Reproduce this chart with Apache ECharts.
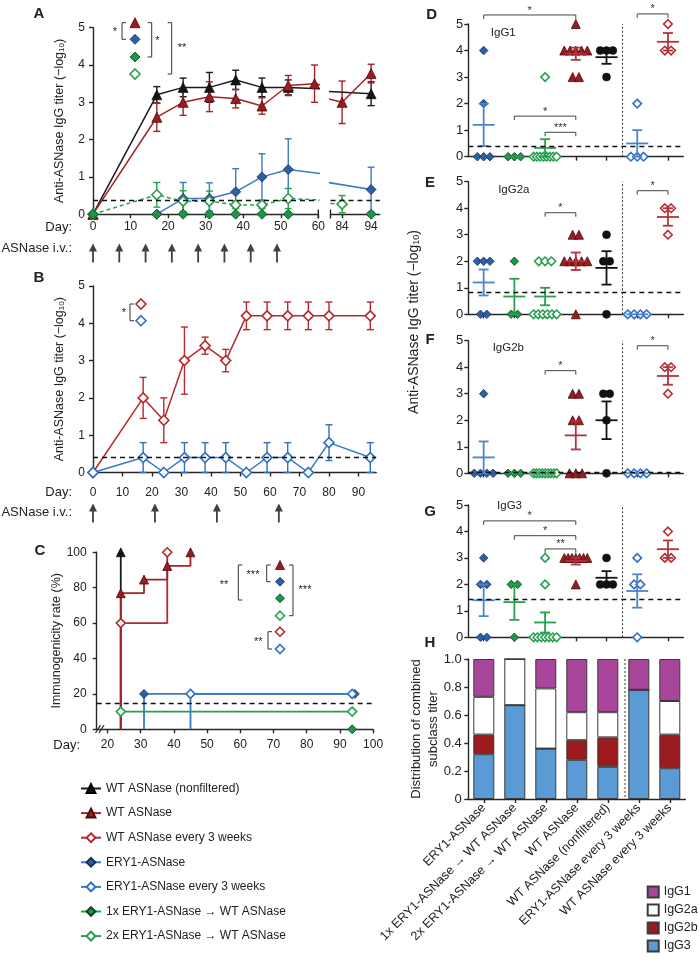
<!DOCTYPE html>
<html>
<head>
<meta charset="utf-8">
<title>ASNase immunogenicity</title>
<script src="https://cdn.jsdelivr.net/npm/echarts@6/dist/echarts.min.js"></script>
<style>
html, body { margin:0; padding:0; background:#fff; }
#chart { width:700px; height:960px; }
</style>
</head>
<body>
<div id="chart"></div>
<script>
// ================= DATA =================
const N_WTNF = 'WT ASNase (nonfiltered)';
const N_WT = 'WT ASNase';
const N_WTQ3 = 'WT ASNase every 3 weeks';
const N_ERY = 'ERY1-ASNase';
const N_ERYQ3 = 'ERY1-ASNase every 3 weeks';
const N_1X = '1x ERY1-ASNase \u2192 WT ASNase';
const N_2X = '2x ERY1-ASNase \u2192 WT ASNase';

// Panel A (titer over time, weekly dosing)
const A_DAYS_WTNF = [0, 17, 24, 31, 38, 45, 52, 94];
const A_WTNF      = [0, 3.2, 3.4, 3.4, 3.6, 3.4, 3.4, 3.23];
const A_WTNF_ERR  = [0, 0.22, 0.25, 0.4, 0.26, 0.25, 0.2, 0.32];
const A_DAYS_WT   = [0, 17, 24, 31, 38, 45, 52, 59, 84, 94];
const A_WT        = [0, 2.6, 3.0, 3.15, 3.1, 2.9, 3.45, 3.5, 3.0, 3.77];
const A_WT_ERR    = [0, 0.38, 0.35, 0.4, 0.25, 0.22, 0.27, 0.5, 0.57, 0.25];
const A_DAYS_ERY  = [17, 24, 31, 38, 45, 52, 94];
const A_ERY       = [0, 0.42, 0.42, 0.6, 1.0, 1.2, 0.66];
const A_ERY_ERR   = [0, 0.43, 0.42, 0.62, 0.62, 0.82, 0.6];
const A_DAYS_1X   = [0, 17, 24, 31, 38, 45, 52, 94];
const A_1X        = [0, 0, 0, 0, 0, 0, 0, 0];
const A_DAYS_2X   = [0, 17, 24, 31, 38, 45, 52, 84];
const A_2X        = [0, 0.52, 0.35, 0.35, 0.25, 0.25, 0.42, 0.27];
const A_2X_ERR    = [0, 0.33, 0.28, 0.27, 0.1, 0.1, 0.27, 0.23];
const A_THRESHOLD = 0.38;
const A_INJECTION_DAYS = [0, 7, 14, 21, 28, 35, 42, 49];
const A_TICKS_1 = [0, 10, 20, 30, 40, 50, 60];
const A_TICKS_2 = [84, 94];

// Panel B (every 3 weeks)
const B_DAYS      = [0, 17, 24, 31, 38, 45, 52, 59, 66, 73, 80, 94];
const B_WTQ3      = [0, 2.0, 1.4, 3.0, 3.4, 3.0, 4.2, 4.2, 4.2, 4.2, 4.2, 4.2];
const B_WTQ3_ERR  = [0, 0.55, 0.6, 0.9, 0.23, 0.3, 0.37, 0.37, 0.37, 0.37, 0.37, 0.37];
const B_ERYQ3     = [0, 0.4, 0, 0.4, 0.4, 0.4, 0, 0.4, 0.4, 0, 0.8, 0.4];
const B_ERYQ3_ERR = [0, 0.4, 0, 0.4, 0.4, 0.4, 0, 0.4, 0.4, 0, 0.48, 0.4];
const B_THRESHOLD = 0.4;
const B_INJECTION_DAYS = [0, 21, 42, 63];
const B_TICKS = [0, 10, 20, 30, 40, 50, 60, 70, 80, 90];

// Panel C (immunogenicity rate, step curves)
const C_DAYS_WTNF  = [24, 24];        const C_WTNF  = [0, 100];
const C_DAYS_WT    = [24, 24, 31, 38, 45]; const C_WT = [0, 76.9, 84.6, 92.3, 100];
const C_DAYS_WTQ3  = [24, 24, 38];    const C_WTQ3  = [0, 60, 100];
const C_DAYS_ERY   = [31, 31, 94.5];  const C_ERY   = [0, 20, 20];
const C_DAYS_ERYQ3 = [45, 45, 93.7];  const C_ERYQ3 = [0, 20, 20];
const C_DAYS_2X    = [24, 24, 93.7];  const C_2X    = [0, 10, 10];
const C_DAYS_1X    = [93.7];          const C_1X    = [0];
const C_THRESHOLD = 15;
const C_TICKS = [20, 30, 40, 50, 60, 70, 80, 90, 100];

// Panels D-G (subclass titers per animal), categories in GROUPS order
const GROUPS = [N_ERY, N_1X, N_2X, N_WT, N_WTNF, N_ERYQ3, N_WTQ3];
const CAT_TICKS = [1, 2, 3, 4, 5, 6, 7];
const D_IGG1  = [[4,2,0,0,0],[0,0,0],[3,0,0,0,0,0,0,0,0],[5,4,4,4,4,4,3,3],[4,4,4,3],[2,0,0,0],[5,4,4]];
const D_MEAN  = [1.2, 0, 0.33, 3.88, 3.75, 0.5, 4.33];
const D_SEM   = [0.8, 0, 0.33, 0.23, 0.25, 0.5, 0.33];
const D_THRESHOLD = 0.38;
const D_SIG = [[1, 4, 5.34, '*'], [6, 7, 5.38, '*'], [2, 4, 1.53, '*'], [3, 4, 0.92, '***']];

const E_IGG2A = [[2,2,2,0,0],[2,0,0],[2,2,2,0,0,0,0,0,0],[3,3,2,2,2,2,2,0],[3,2,2,0],[0,0,0,0],[4,4,3]];
const E_MEAN  = [1.2, 0.67, 0.67, 2.0, 1.75, 0, 3.67];
const E_SEM   = [0.49, 0.67, 0.33, 0.33, 0.63, 0, 0.33];
const E_THRESHOLD = 0.82;
const E_SIG = [[3, 4, 3.83, '*'], [6, 7, 4.66, '*']];

const F_IGG2B = [[3,0,0,0,0],[0,0,0],[0,0,0,0,0,0,0,0,0],[3,3,2,2,0,0,0],[3,3,2,0],[0,0,0,0],[4,4,3]];
const F_MEAN  = [0.6, 0, 0, 1.43, 2.0, 0, 3.67];
const F_SEM   = [0.6, 0, 0, 0.53, 0.71, 0, 0.33];
const F_THRESHOLD = 0.05;
const F_SIG = [[3, 4, 3.87, '*'], [6, 7, 4.81, '*']];

const G_IGG3  = [[3,2,2,0,0],[2,2,0],[3,2,0,0,0,0,0,0,0],[3,3,3,3,3,3,3,2],[3,2,2,2],[3,2,2,0],[4,3,3]];
const G_MEAN  = [1.4, 1.33, 0.56, 2.88, 2.25, 1.75, 3.33];
const G_SEM   = [0.6, 0.67, 0.38, 0.13, 0.25, 0.63, 0.33];
const G_THRESHOLD = 1.43;
const G_SIG = [[1, 4, 4.4, '*'], [2, 4, 3.84, '*'], [3, 4, 3.34, '**']];

// Panel H (distribution of combined subclass titer)
const H_IGG1  = [0.27, 0, 0.21, 0.38, 0.38, 0.22, 0.30];
const H_IGG2A = [0.27, 0.33, 0.43, 0.20, 0.18, 0, 0.24];
const H_IGG2B = [0.14, 0, 0, 0.14, 0.21, 0, 0.24];
const H_IGG3  = [0.32, 0.67, 0.36, 0.28, 0.23, 0.78, 0.22];

// ================= STYLE =================
const FONT = "'Liberation Sans', Arial, Helvetica, sans-serif";
const INK = '#222';
const AXC = '#262626';
const S = {
  WTNF:  {symbol: 'triangle', fill: '#141414', edge: '#000', bw: 0.6, line: '#1b1b1b'},
  WT:    {symbol: 'triangle', fill: '#9b1b1f', edge: '#4a0c0e', bw: 0.8, line: '#a52126'},
  WTQ3:  {symbol: 'diamond', fill: '#fff', edge: '#b52a2f', bw: 1.6, line: '#b52a2f'},
  ERY:   {symbol: 'diamond', fill: '#2d5fa6', edge: '#172f57', bw: 0.8, line: '#3a78c9'},
  ERYQ3: {symbol: 'diamond', fill: '#fff', edge: '#2f6fc4', bw: 1.6, line: '#3a78c9'},
  X1:    {symbol: 'diamond', fill: '#1e9446', edge: '#0c4420', bw: 0.8, line: '#27a04e'},
  X2:    {symbol: 'diamond', fill: '#fff', edge: '#27a04e', bw: 1.6, line: '#27a04e'}
};
const DOT_STYLE = [
  {st: S.ERY, size: 8.5, mean: '#4a86cf'},
  {st: S.X1, size: 8.5, mean: '#27a04e'},
  {st: S.X2, size: 8.5, mean: '#27a04e'},
  {st: S.WT, size: 9, mean: '#b5323a'},
  {st: {symbol: 'circle', fill: '#111', edge: '#111', bw: 0.5}, size: 8, mean: '#111'},
  {st: S.ERYQ3, size: 8.5, mean: '#4a86cf'},
  {st: S.WTQ3, size: 8.5, mean: '#b5323a'}
];
const H_COLORS = {IgG1: '#a8469c', IgG2a: '#ffffff', IgG2b: '#9b1b1f', IgG3: '#5a9bd6'};
const ARROW = 'path://M4,0 L8,8 L4.9,8 L4.9,19 L3.1,19 L3.1,8 L0,8 Z';

// ================= BUILDERS =================
const series = [];
const graphics = [];
const pts = (xs, ys) => xs.map((x, i) => [x, ys[i]]);

function lineSeries(name, g, xs, ys, st, o = {}) {
  return {
    type: 'line', name, xAxisIndex: g, yAxisIndex: g, data: pts(xs, ys),
    symbol: st.symbol, symbolSize: o.size || 10, showAllSymbol: true,
    itemStyle: {color: st.fill, borderColor: st.edge, borderWidth: st.bw},
    lineStyle: {color: st.line, width: o.lw || 1.5, type: o.dash || 'solid', opacity: o.lineOpacity == null ? 1 : o.lineOpacity},
    clip: o.clip !== false, silent: true, animation: false, z: 3, emphasis: {disabled: true},
    markLine: o.markLine
  };
}
function errRender(color, cap, lw) {
  return function (params, api) {
    const x = api.value(0), y = api.value(1), e = api.value(2);
    const t = api.coord([x, y + e]), b = api.coord([x, Math.max(0, y - e)]);
    const st = () => ({stroke: color, lineWidth: lw, fill: null});
    return {type: 'group', children: [
      {type: 'line', shape: {x1: t[0], y1: t[1], x2: b[0], y2: b[1]}, style: st()},
      {type: 'line', shape: {x1: t[0] - cap, y1: t[1], x2: t[0] + cap, y2: t[1]}, style: st()},
      {type: 'line', shape: {x1: b[0] - cap, y1: b[1], x2: b[0] + cap, y2: b[1]}, style: st()}
    ]};
  };
}
function errSeries(g, xs, ys, es, color, range) {
  const data = [];
  xs.forEach((x, i) => { if (es[i] > 0 && x >= range[0] && x <= range[1]) data.push([x, ys[i], es[i]]); });
  return {type: 'custom', xAxisIndex: g, yAxisIndex: g, data, renderItem: errRender(color, 3.5, 1.4),
    silent: true, animation: false, z: 2};
}
function thrLine(v) {
  return {silent: true, symbol: 'none', animation: false, label: {show: false},
    lineStyle: {type: [5, 4], color: '#111', width: 1.3}, data: [{yAxis: v}]};
}
function arrowSeries(g, days) {
  return {type: 'scatter', xAxisIndex: g, yAxisIndex: g, data: days.map(d => [d, 0.5]),
    symbol: ARROW, symbolSize: [8, 19], itemStyle: {color: '#111'}, silent: true, animation: false};
}

// ================= PANEL A =================
[[0, [0, 60]], [1, [80, 97]]].forEach(([g, r]) => {
  const first = g === 0;
  series.push(errSeries(g, A_DAYS_WTNF, A_WTNF, A_WTNF_ERR, S.WTNF.line, r));
  series.push(errSeries(g, A_DAYS_WT, A_WT, A_WT_ERR, S.WT.line, r));
  series.push(errSeries(g, A_DAYS_ERY, A_ERY, A_ERY_ERR, S.ERY.line, r));
  series.push(errSeries(g, A_DAYS_2X, A_2X, A_2X_ERR, S.X2.line, r));
  series.push(lineSeries(first ? N_WTNF : 'a2-wtnf', g, A_DAYS_WTNF, A_WTNF, S.WTNF));
  series.push(lineSeries(first ? N_WT : 'a2-wt', g, A_DAYS_WT, A_WT, S.WT));
  series.push(lineSeries(first ? N_ERY : 'a2-ery', g, A_DAYS_ERY, A_ERY, S.ERY));
  series.push(lineSeries(first ? N_2X : 'a2-2x', g, A_DAYS_2X, A_2X, S.X2, {dash: [4, 3], markLine: thrLine(A_THRESHOLD)}));
  series.push(lineSeries(first ? N_1X : 'a2-1x', g, A_DAYS_1X, A_1X, S.X1, {lineOpacity: 0}));
});
series.push(arrowSeries(2, A_INJECTION_DAYS));

// ================= PANEL B =================
series.push(errSeries(3, B_DAYS, B_WTQ3, B_WTQ3_ERR, S.WTQ3.line, [0, 100]));
series.push(errSeries(3, B_DAYS, B_ERYQ3, B_ERYQ3_ERR, S.ERYQ3.edge, [0, 100]));
series.push(lineSeries(N_WTQ3, 3, B_DAYS, B_WTQ3, S.WTQ3));
series.push(lineSeries(N_ERYQ3, 3, B_DAYS, B_ERYQ3, S.ERYQ3, {markLine: thrLine(B_THRESHOLD)}));
series.push(arrowSeries(4, B_INJECTION_DAYS));

// ================= PANEL C =================
function stepSeries(name, xs, ys, st, o = {}) {
  const s = lineSeries(name, 5, xs, ys, st, {size: 9, lw: 1.8, clip: false, markLine: o.markLine});
  s.step = 'end';
  s.data = xs.map((x, i) => ({value: [x, ys[i]], symbol: (i === 0 && xs.length > 1) ? 'none' : st.symbol}));
  return s;
}
series.push(stepSeries('c-wtnf', C_DAYS_WTNF, C_WTNF, S.WTNF));
series.push(stepSeries('c-ery', C_DAYS_ERY, C_ERY, S.ERY));
series.push(stepSeries('c-eryq3', C_DAYS_ERYQ3, C_ERYQ3, S.ERYQ3));
series.push(stepSeries('c-2x', C_DAYS_2X, C_2X, S.X2, {markLine: thrLine(C_THRESHOLD)}));
series.push(stepSeries('c-wtq3', C_DAYS_WTQ3, C_WTQ3, S.WTQ3));
series.push(stepSeries('c-wt', C_DAYS_WT, C_WT, S.WT));
series.push(stepSeries('c-1x', C_DAYS_1X, C_1X, S.X1));

// ================= PANELS D-G =================
function jitter(vals, cat) {
  const groups = new Map();
  vals.forEach(v => { if (!groups.has(v)) groups.set(v, []); groups.get(v).push(v); });
  const out = [];
  groups.forEach(list => {
    const n = list.length;
    const sp = n > 1 ? Math.min(0.205, 0.75 / (n - 1)) : 0;
    list.forEach((v, i) => out.push([cat + (i - (n - 1) / 2) * sp, v]));
  });
  return out;
}
function meanRender(params, api) {
  const x = api.value(0), m = api.value(1), s = api.value(2);
  const color = DOT_STYLE[Math.round(x) - 1].mean;
  const c = api.coord([x, m]), t = api.coord([x, m + s]), b = api.coord([x, Math.max(0, m - s)]);
  const st = () => ({stroke: color, lineWidth: 1.8, fill: null});
  const ch = [{type: 'line', shape: {x1: c[0] - 11, y1: c[1], x2: c[0] + 11, y2: c[1]}, style: st()}];
  if (s > 0) {
    ch.push({type: 'line', shape: {x1: t[0], y1: t[1], x2: b[0], y2: b[1]}, style: st()});
    ch.push({type: 'line', shape: {x1: t[0] - 5, y1: t[1], x2: t[0] + 5, y2: t[1]}, style: st()});
    ch.push({type: 'line', shape: {x1: b[0] - 5, y1: b[1], x2: b[0] + 5, y2: b[1]}, style: st()});
  }
  return {type: 'group', children: ch};
}
function sigRender(rows) {
  return function (params, api) {
    const r = rows[params.dataIndex];
    const a = api.coord([r[0], r[2]]), b = api.coord([r[1], r[2]]);
    return {type: 'group', children: [
      {type: 'polyline', shape: {points: [[a[0], a[1] + 4], [a[0], a[1]], [b[0], b[1]], [b[0], b[1] + 4]]},
        style: {stroke: '#444', lineWidth: 1, fill: null}},
      {type: 'text', x: (a[0] + b[0]) / 2, y: a[1] + 1,
        style: {text: r[3], fontSize: 11, fontFamily: FONT, fill: '#333', align: 'center', verticalAlign: 'bottom',
          textAlign: 'center', textVerticalAlign: 'bottom'}}
    ]};
  };
}
const PANELS = [
  {g: 6, dots: D_IGG1, mean: D_MEAN, sem: D_SEM, thr: D_THRESHOLD, sig: D_SIG},
  {g: 7, dots: E_IGG2A, mean: E_MEAN, sem: E_SEM, thr: E_THRESHOLD, sig: E_SIG},
  {g: 8, dots: F_IGG2B, mean: F_MEAN, sem: F_SEM, thr: F_THRESHOLD, sig: F_SIG},
  {g: 9, dots: G_IGG3, mean: G_MEAN, sem: G_SEM, thr: G_THRESHOLD, sig: G_SIG}
];
PANELS.forEach(p => {
  p.dots.forEach((vals, i) => {
    const ds = DOT_STYLE[i];
    const s = {
      type: 'scatter', name: 'dots-' + p.g + '-' + i, xAxisIndex: p.g, yAxisIndex: p.g,
      data: jitter(vals, i + 1), symbol: ds.st.symbol, symbolSize: ds.size, clip: false,
      itemStyle: {color: ds.st.fill, borderColor: ds.st.edge, borderWidth: ds.st.bw, opacity: 1},
      silent: true, animation: false, z: 3
    };
    if (i === 0) {
      s.markLine = {silent: true, symbol: 'none', animation: false, label: {show: false},
        data: [
          {yAxis: p.thr, lineStyle: {type: [5, 4], color: '#111', width: 1.3}},
          {xAxis: 5.5, lineStyle: {type: [2, 2], color: '#333', width: 1}}
        ]};
    }
    series.push(s);
  });
  series.push({type: 'custom', xAxisIndex: p.g, yAxisIndex: p.g, silent: true, animation: false, z: 4,
    data: p.mean.map((m, i) => [i + 1, m, p.sem[i]]), renderItem: meanRender});
  series.push({type: 'custom', xAxisIndex: p.g, yAxisIndex: p.g, silent: true, animation: false, z: 4,
    data: p.sig.map(r => [r[0], r[2]]), renderItem: sigRender(p.sig)});
});

// ================= PANEL H =================
[['IgG3', H_IGG3], ['IgG2b', H_IGG2B], ['IgG2a', H_IGG2A], ['IgG1', H_IGG1]].forEach(([n, d]) => {
  series.push({type: 'bar', name: n, xAxisIndex: 10, yAxisIndex: 10, stack: 'h', data: d, barWidth: 21,
    itemStyle: {color: H_COLORS[n], borderColor: '#3a3a3a', borderWidth: 1}, silent: true, animation: false});
});

// ================= AXES =================
const AX_LINE = {show: true, onZero: false, lineStyle: {color: AXC, width: 1.4}};
const TICK_LS = {color: AXC, width: 1.4};
function xVal(g, min, max, ticks, o = {}) {
  return {type: 'value', gridIndex: g, min, max, show: o.show !== false,
    axisLine: AX_LINE, splitLine: {show: false},
    axisTick: {show: !!ticks, customValues: ticks, length: 4, lineStyle: TICK_LS},
    axisLabel: {show: !!o.labels, customValues: o.labels ? ticks : undefined, margin: o.margin || 8,
      fontSize: 12, color: INK, fontFamily: FONT}};
}
function yVal(g, min, max, interval, o = {}) {
  return {type: 'value', gridIndex: g, min, max, interval, show: o.show !== false,
    axisLine: AX_LINE, splitLine: {show: false},
    axisTick: {show: true, length: 4, lineStyle: TICK_LS},
    axisLabel: {show: true, margin: o.margin || 8, fontSize: o.fs || 12, color: INK, fontFamily: FONT, formatter: o.fmt},
    name: o.name, nameLocation: 'middle', nameGap: o.gap,
    nameTextStyle: {fontSize: 12.5, color: INK, fontFamily: FONT,
      rich: {s: {fontSize: 8, fontFamily: FONT, color: INK, verticalAlign: 'bottom'}}}};
}
const TITER = 'Anti-ASNase IgG titer (\u2212log{s|10})';
const xAxis = [
  xVal(0, 0, 60, A_TICKS_1, {labels: true, margin: 6.5}),
  xVal(1, 80, 97, A_TICKS_2, {labels: true, margin: 6.5}),
  {type: 'value', gridIndex: 2, min: 0, max: 60, show: false},
  xVal(3, 0, 96, B_TICKS, {labels: true, margin: 14}),
  {type: 'value', gridIndex: 4, min: 0, max: 96, show: false},
  xVal(5, 16.75, 100, C_TICKS, {labels: true, margin: 9.5}),
  xVal(6, 0.5, 7.5, CAT_TICKS),
  xVal(7, 0.5, 7.5, CAT_TICKS),
  xVal(8, 0.5, 7.5, CAT_TICKS),
  xVal(9, 0.5, 7.5, CAT_TICKS),
  {type: 'category', gridIndex: 10, data: GROUPS, axisLine: AX_LINE,
    axisTick: {show: true, alignWithLabel: true, length: 4, lineStyle: TICK_LS},
    axisLabel: {rotate: 45, interval: 0, margin: 7, fontSize: 12.5, color: INK, fontFamily: FONT}}
];
const yAxis = [
  yVal(0, 0, 5, 1, {name: TITER, gap: 27}),
  {type: 'value', gridIndex: 1, min: 0, max: 5, show: false},
  {type: 'value', gridIndex: 2, min: 0, max: 1, show: false},
  yVal(3, 0, 5, 1, {name: TITER, gap: 27}),
  {type: 'value', gridIndex: 4, min: 0, max: 1, show: false},
  yVal(5, 0, 100, 20, {name: 'Immunogenicity rate (%)', gap: 32, margin: 10}),
  yVal(6, 0, 5, 1, {fs: 13, margin: 5}),
  yVal(7, 0, 5, 1, {fs: 13, margin: 5}),
  yVal(8, 0, 5, 1, {fs: 13, margin: 5}),
  yVal(9, 0, 5, 1, {fs: 13, margin: 5}),
  yVal(10, 0, 1, 0.2, {fs: 13, margin: 6.5, fmt: v => (v === 0 ? '0' : v.toFixed(1))})
];
const grid = [
  {left: 93, top: 27.7, width: 225.3, height: 186.5},
  {left: 330.5, top: 27.7, width: 49.3, height: 186.5},
  {left: 93, top: 243, width: 225.3, height: 20},
  {left: 93, top: 286, width: 283.2, height: 186.5},
  {left: 93, top: 503, width: 283.2, height: 20},
  {left: 96.7, top: 552.3, width: 276.4, height: 177},
  {left: 468.3, top: 24, width: 215, height: 132.7},
  {left: 468.3, top: 181.7, width: 215, height: 132.6},
  {left: 468.3, top: 340.7, width: 215, height: 132.6},
  {left: 468.3, top: 505, width: 215, height: 132.3},
  {left: 468.3, top: 659, width: 217, height: 140}
];

// ================= ANNOTATIONS =================
function txt(x, y, s, o = {}) {
  graphics.push({type: 'text', x, y, rotation: o.rot || 0, silent: true, z: 50,
    style: {text: s, fill: o.color || INK, fontSize: o.size || 12, fontFamily: FONT, fontWeight: o.bold ? 'bold' : 'normal',
      align: o.align || 'center', verticalAlign: o.va || 'middle', textAlign: o.align || 'center',
      textVerticalAlign: o.va || 'middle', lineHeight: o.lh, rich: o.rich}});
}
function pline(points, o = {}) {
  graphics.push({type: 'polyline', silent: true, z: 50, shape: {points},
    style: {stroke: o.color || '#333', lineWidth: o.lw || 1, fill: null, lineDash: o.dash}});
}
function pgon(points, st) {
  graphics.push({type: 'polygon', silent: true, z: 50, shape: {points}, style: {fill: st.fill, stroke: st.edge, lineWidth: st.bw}});
}
const triMark = (cx, cy, s, st) => pgon([[cx, cy - s / 2], [cx + s / 2, cy + s / 2], [cx - s / 2, cy + s / 2]], st);
const diaMark = (cx, cy, s, st) => pgon([[cx, cy - s / 2], [cx + s / 2, cy], [cx, cy + s / 2], [cx - s / 2, cy]], st);
const lbr = (x, y1, y2, w = 4) => pline([[x + w, y1], [x, y1], [x, y2], [x + w, y2]]);
const rbr = (x, y1, y2, w = 4) => pline([[x - w, y1], [x, y1], [x, y2], [x - w, y2]]);

// panel letters
[['A', 39, 14], ['B', 39, 278], ['C', 40, 551], ['D', 431.7, 15], ['E', 430, 182.7], ['F', 430, 340],
 ['G', 430, 511.7], ['H', 430, 643.3]].forEach(([l, x, y]) => txt(x, y, l, {size: 15, bold: true}));
// day / dosing labels
txt(72, 227, 'Day:', {align: 'right', size: 13});
txt(72, 248.5, 'ASNase i.v.:', {align: 'right', size: 13});
txt(72, 492.3, 'Day:', {align: 'right', size: 13});
txt(72, 512.7, 'ASNase i.v.:', {align: 'right', size: 13});
txt(80, 745, 'Day:', {align: 'right', size: 13});
// axis breaks
pline([[318.3, 209.5], [318.3, 218.5]], {color: AXC, lw: 1.4});
pline([[330.5, 209.5], [330.5, 218.5]], {color: AXC, lw: 1.4});
pline([[95.5, 733], [100.5, 725]], {color: AXC, lw: 1.2});
pline([[99, 733], [104, 725]], {color: AXC, lw: 1.2});
// A stats legend
triMark(135, 22.7, 10, S.WT); diaMark(135, 39.3, 10, S.ERY); diaMark(135, 57, 10, S.X1); diaMark(135, 74, 10, S.X2);
lbr(122, 22.7, 39.3); txt(115, 32, '*', {size: 11});
rbr(151.7, 22.7, 57); txt(157.5, 40.5, '*', {size: 11});
rbr(171.7, 22.7, 74); txt(182, 47.5, '**', {size: 11});
// B stats legend
diaMark(141, 304, 10, S.WTQ3); diaMark(141, 320.7, 10, S.ERYQ3);
lbr(130, 304, 320.7); txt(124, 313, '*', {size: 11});
// C stats legend
triMark(280, 565, 9, S.WT); diaMark(280, 581.7, 9, S.ERY); diaMark(280, 598.3, 9, S.X1);
diaMark(280, 615.7, 9, S.X2); diaMark(280, 631.7, 9, S.WTQ3); diaMark(280, 649, 9, S.ERYQ3);
lbr(266.7, 565, 581.7); txt(253, 575, '***', {size: 11});
lbr(238.3, 565, 600); txt(224, 585, '**', {size: 11});
rbr(293, 565, 615.7); txt(305, 590, '***', {size: 11});
lbr(268, 631.7, 649); txt(258.3, 642, '**', {size: 11});
// subclass labels
txt(503.3, 33.3, 'IgG1', {size: 11.5}); txt(513.8, 190, 'IgG2a', {size: 11.5});
txt(508.3, 348.3, 'IgG2b', {size: 11.5}); txt(509.5, 506, 'IgG3', {size: 11.5});
// D-G shared y title, H title
txt(414, 322, 'Anti-ASNase IgG titer (\u2212log{s|10})', {size: 14, rot: Math.PI / 2,
  rich: {s: {fontSize: 9, fontFamily: FONT, fill: INK, verticalAlign: 'bottom'}}});
txt(425, 729, 'Distribution of combined\nsubclass titer', {size: 13, rot: Math.PI / 2, lh: 16.5});
// H separator
pline([[625, 659], [625, 799]], {color: '#333', lw: 1, dash: [2, 2]});

// ================= CHART =================
const chart = echarts.init(document.getElementById('chart'), null, {renderer: 'canvas'});
chart.setOption({
  animation: false,
  backgroundColor: '#fff',
  textStyle: {fontFamily: FONT, color: INK},
  grid, xAxis, yAxis, series,
  legend: [
    {orient: 'vertical', left: 80, top: 782.5, padding: 0, itemWidth: 20, itemHeight: 11, itemGap: 12.6,
      selectedMode: false, textStyle: {fontSize: 12, color: INK, fontFamily: FONT},
      data: [{name: N_WTNF}, {name: N_WT}, {name: N_WTQ3}, {name: N_ERY}, {name: N_ERYQ3},
        {name: N_1X, lineStyle: {opacity: 1, color: S.X1.line}}, {name: N_2X, lineStyle: {type: 'solid'}}]},
    {orient: 'vertical', left: 646.7, top: 885.5, padding: 0, itemWidth: 11, itemHeight: 11, itemGap: 5, icon: 'rect',
      selectedMode: false, textStyle: {fontSize: 12.5, color: INK, fontFamily: FONT},
      data: ['IgG1', 'IgG2a', 'IgG2b', 'IgG3']}
  ],
  graphic: graphics
});
</script>
</body>
</html>
